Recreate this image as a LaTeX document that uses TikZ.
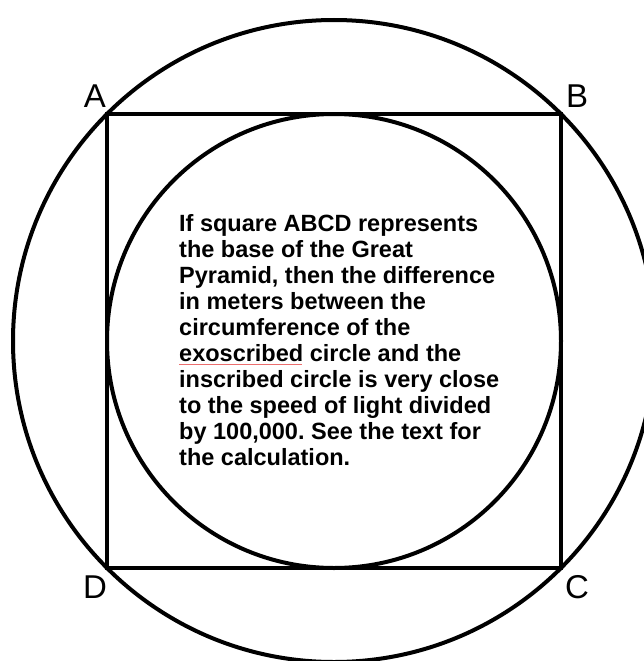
\documentclass[tikz,border=0pt]{standalone}
\usepackage{fontspec}
\setmainfont{Liberation Sans}
\frenchspacing
\definecolor{spellred}{RGB}{235,110,110}
\tikzset{
  thick line/.style={line width=4pt, black},
  corner label/.style={font=\fontsize{33}{36}\selectfont, inner sep=0pt, anchor=center},
  body text/.style={font=\bfseries\fontsize{23.5}{26}\selectfont, align=left, inner sep=0pt, anchor=north west}
}
\begin{document}
\begin{tikzpicture}[x=1pt,y=-1pt]
\useasboundingbox (0,0) rectangle (644,661);
\fill[white] (0,0) rectangle (644,661);
\clip (0,0) rectangle (644,661);
\coordinate (O) at (334,341);
\coordinate (A) at (107,114);
\coordinate (B) at (561,114);
\coordinate (C) at (561,568);
\coordinate (D) at (107,568);
\draw[thick line] (O) circle[radius=321];
\draw[thick line] (O) circle[radius=227];
\draw[thick line] (A) -- (B) -- (C) -- (D) -- cycle;
\node[corner label] (la) at (95,96) {A};
\node[corner label] (lb) at (577,96) {B};
\node[corner label] (lc) at (577,587) {C};
\node[corner label] (ld) at (95,587) {D};
\node[body text] (txt) at (179,214) {If square ABCD represents\\the base of the Great\\Pyramid, then the difference\\in meters between the\\circumference of the\\exoscribed circle and the\\inscribed circle is very close\\to the speed of light divided\\by 100,000. See the text for\\the calculation.};
\draw[spellred, line width=0.8pt] (179,364) -- (302,364);
\end{tikzpicture}
\end{document}
